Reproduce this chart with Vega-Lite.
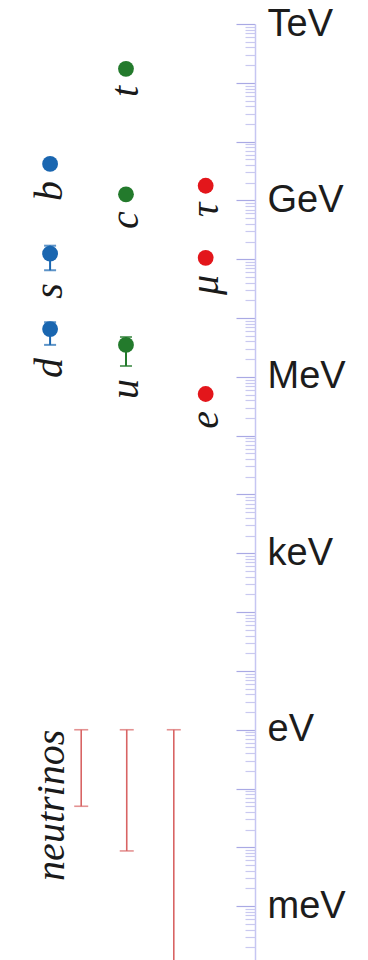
{
  "$schema": "https://vega.github.io/schema/vega-lite/v6.json",
  "width": 255,
  "height": 941,
  "autosize": {"type": "none"},
  "padding": {"top": 24, "left": 0, "right": 113, "bottom": 0},
  "background": "white",
  "config": {"view": {"stroke": null}},
  "resolve": {"axis": {"y": "independent"}},
  "datasets": {
    "particles": [
      {"name": "d", "family": "down", "col": 1, "mass": 6.5e6, "low": 3.5e6, "high": 8.5e6},
      {"name": "s", "family": "down", "col": 1, "mass": 1.25e8, "low": 6.5e7, "high": 1.7e8},
      {"name": "b", "family": "down", "col": 1, "mass": 4.18e9, "low": 4.18e9, "high": 4.18e9},
      {"name": "u", "family": "up", "col": 2, "mass": 3.5e6, "low": 1.53e6, "high": 4.75e6},
      {"name": "c", "family": "up", "col": 2, "mass": 1.27e9, "low": 1.27e9, "high": 1.27e9},
      {"name": "t", "family": "up", "col": 2, "mass": 1.73e11, "low": 1.73e11, "high": 1.73e11},
      {"name": "e", "family": "lepton", "col": 3.05, "mass": 5.11e5, "low": 5.11e5, "high": 5.11e5},
      {"name": "μ", "family": "lepton", "col": 3.05, "mass": 1.057e8, "low": 1.057e8, "high": 1.057e8},
      {"name": "τ", "family": "lepton", "col": 3.05, "mass": 1.777e9, "low": 1.777e9, "high": 1.777e9}
    ],
    "neutrinos": [
      {"nu": "ν1", "col": 1.41, "high": 1, "low": 0.05},
      {"nu": "ν2", "col": 2.01, "high": 1, "low": 0.0087},
      {"nu": "ν3", "col": 2.63, "high": 1, "low": 0.0001}
    ],
    "nulabel": [
      {"label": "neutrinos", "col": 1.03, "mass": 1}
    ]
  },
  "layer": [
    {
      "data": {"name": "neutrinos"},
      "mark": {"type": "rule", "color": "#d86464", "strokeWidth": 1.6},
      "encoding": {
        "x": {"field": "col", "type": "quantitative", "scale": {"domain": [0.34, 3.7], "nice": false, "zero": false}, "axis": null},
        "y": {
          "field": "high", "type": "quantitative",
          "scale": {"type": "log", "domain": [0.0001, 1e12], "nice": false, "zero": false},
          "axis": {
            "orient": "right",
            "offset": 0,
            "title": null,
            "grid": false,
            "values": [0.0001, 0.001, 0.01, 0.1, 1, 10, 100, 1000, 10000, 100000, 1000000, 10000000, 100000000, 1000000000, 10000000000, 100000000000, 1000000000000],
            "labelExpr": "datum.value == 1000000000000 ? 'TeV' : datum.value == 1000000000 ? 'GeV' : datum.value == 1000000 ? 'MeV' : datum.value == 1000 ? 'keV' : datum.value == 1 ? 'eV' : datum.value == 0.001 ? 'meV' : ''",
            "labelOverlap": false,
            "labelBound": false,
            "labelFlush": false,
            "labelFont": "Liberation Sans",
            "labelFontSize": 38,
            "labelColor": "#1c1c1c",
            "labelPadding": 31,
            "domain": true,
            "domainColor": "#c6c6f2",
            "domainWidth": 1.5,
            "ticks": true,
            "tickWidth": 1.2,
            "tickColor": "#a9a9e4",
            "tickSize": -19
          }
        },
        "y2": {"field": "low"}
      }
    },
    {
      "data": {"name": "neutrinos"},
      "mark": {"type": "tick", "orient": "horizontal", "color": "#d86464", "size": 14, "thickness": 1.6},
      "encoding": {
        "x": {"field": "col", "type": "quantitative", "axis": null},
        "y": {
          "field": "high", "type": "quantitative",
          "axis": {
            "orient": "right",
            "offset": 0,
            "title": null,
            "grid": false,
            "domain": false,
            "labels": false,
            "ticks": true,
            "tickWidth": 1.2,
            "tickColor": "#c9c9f0",
            "tickSize": -10,
            "values": [0.0002,0.0003,0.0004,0.0005,0.0006,0.0007,0.0008,0.0009,
              0.002,0.003,0.004,0.005,0.006,0.007,0.008,0.009,
              0.02,0.03,0.04,0.05,0.06,0.07,0.08,0.09,
              0.2,0.3,0.4,0.5,0.6,0.7,0.8,0.9,
              2,3,4,5,6,7,8,9,
              20,30,40,50,60,70,80,90,
              200,300,400,500,600,700,800,900,
              2e3,3e3,4e3,5e3,6e3,7e3,8e3,9e3,
              2e4,3e4,4e4,5e4,6e4,7e4,8e4,9e4,
              2e5,3e5,4e5,5e5,6e5,7e5,8e5,9e5,
              2e6,3e6,4e6,5e6,6e6,7e6,8e6,9e6,
              2e7,3e7,4e7,5e7,6e7,7e7,8e7,9e7,
              2e8,3e8,4e8,5e8,6e8,7e8,8e8,9e8,
              2e9,3e9,4e9,5e9,6e9,7e9,8e9,9e9,
              2e10,3e10,4e10,5e10,6e10,7e10,8e10,9e10,
              2e11,3e11,4e11,5e11,6e11,7e11,8e11,9e11]
          }
        }
      }
    },
    {
      "data": {"name": "neutrinos"},
      "transform": [{"filter": "datum.low > 0.0001"}],
      "mark": {"type": "tick", "orient": "horizontal", "color": "#d86464", "size": 14, "thickness": 1.6},
      "encoding": {
        "x": {"field": "col", "type": "quantitative", "axis": null},
        "y": {"field": "low", "type": "quantitative", "axis": null}
      }
    },
    {
      "data": {"name": "particles"},
      "transform": [{"filter": "datum.low < datum.high"}],
      "mark": {"type": "rule", "strokeWidth": 2},
      "encoding": {
        "x": {"field": "col", "type": "quantitative", "axis": null},
        "y": {"field": "low", "type": "quantitative", "axis": null},
        "y2": {"field": "high"},
        "color": {"field": "family", "type": "nominal", "scale": {"domain": ["down", "up", "lepton"], "range": ["#1a66b0", "#237a2c", "#e3161b"]}, "legend": null}
      }
    },
    {
      "data": {"name": "particles"},
      "transform": [{"filter": "datum.low < datum.high"}],
      "mark": {"type": "tick", "orient": "horizontal", "size": 12, "thickness": 2},
      "encoding": {
        "x": {"field": "col", "type": "quantitative", "axis": null},
        "y": {"field": "low", "type": "quantitative", "axis": null},
        "color": {"field": "family", "type": "nominal", "legend": null}
      }
    },
    {
      "data": {"name": "particles"},
      "transform": [{"filter": "datum.low < datum.high"}],
      "mark": {"type": "tick", "orient": "horizontal", "size": 12, "thickness": 2},
      "encoding": {
        "x": {"field": "col", "type": "quantitative", "axis": null},
        "y": {"field": "high", "type": "quantitative", "axis": null},
        "color": {"field": "family", "type": "nominal", "legend": null}
      }
    },
    {
      "data": {"name": "particles"},
      "mark": {"type": "circle", "size": 250, "opacity": 1},
      "encoding": {
        "x": {"field": "col", "type": "quantitative", "axis": null},
        "y": {"field": "mass", "type": "quantitative", "axis": null},
        "color": {"field": "family", "type": "nominal", "legend": null}
      }
    },
    {
      "data": {"name": "particles"},
      "transform": [{"filter": "datum.low < datum.high"}],
      "mark": {"type": "text", "angle": 270, "align": "right", "baseline": "middle", "dx": -13, "font": "Liberation Serif", "fontStyle": "italic", "fontSize": 40, "color": "#1a1a1a"},
      "encoding": {
        "x": {"field": "col", "type": "quantitative", "axis": null},
        "y": {"field": "low", "type": "quantitative", "axis": null},
        "text": {"field": "name"}
      }
    },
    {
      "data": {"name": "particles"},
      "transform": [{"filter": "datum.low >= datum.high"}],
      "mark": {"type": "text", "angle": 270, "align": "right", "baseline": "middle", "dx": -17, "font": "Liberation Serif", "fontStyle": "italic", "fontSize": 40, "color": "#1a1a1a"},
      "encoding": {
        "x": {"field": "col", "type": "quantitative", "axis": null},
        "y": {"field": "mass", "type": "quantitative", "axis": null},
        "text": {"field": "name"}
      }
    },
    {
      "data": {"name": "nulabel"},
      "mark": {"type": "text", "angle": 270, "align": "right", "baseline": "middle", "font": "Liberation Serif", "fontStyle": "italic", "fontSize": 40, "color": "#1a1a1a"},
      "encoding": {
        "x": {"field": "col", "type": "quantitative", "axis": null},
        "y": {"field": "mass", "type": "quantitative", "axis": null},
        "text": {"field": "label"}
      }
    }
  ]
}
